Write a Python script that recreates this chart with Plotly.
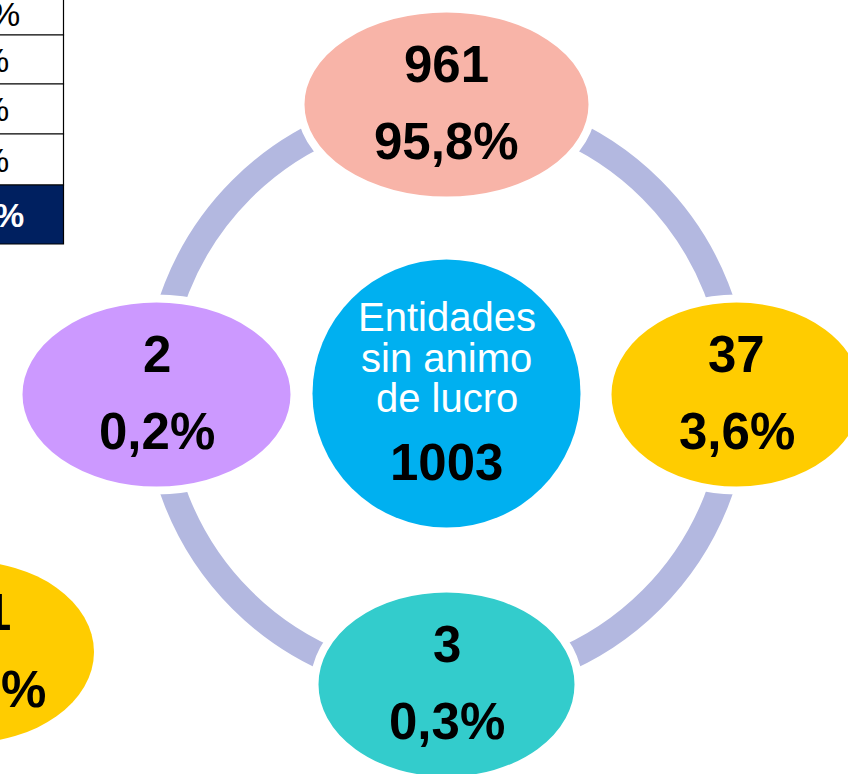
import plotly.graph_objects as go
import math

# ---- data ----
node_counts = ["961", "37", "3", "2"]
node_pcts = ["95,8%", "3,6%", "0,3%", "0,2%"]
center_label = ["Entidades", "sin animo", "de lucro"]
center_total = "1003"
table_pcts = ["%", "%", "%", "%", "%"]
partial_count = "1"
partial_pct = "%"

# ---- styles / layout ----
W, H = 848, 774
CX, CY, R = 446.5, 394.5, 290
node_angles = [90, 0, -90, 180]
node_rx = [146, 129, 132, 138]
node_ry = [96, 96, 96, 96]
node_colors = ["#F8B4A8", "#FFCC00", "#33CCCC", "#CC99FF"]
ring_color = "#B3B8E0"
center_color = "#00B0F0"
FONT = "Liberation Sans, Arial, sans-serif"

fig = go.Figure()
fig.add_trace(go.Scatter(x=[0, W], y=[0, H], mode="markers",
                         marker=dict(opacity=0), hoverinfo="skip", showlegend=False))

shapes = []
annos = []

# ring
shapes.append(dict(type="circle", xref="x", yref="y",
                   x0=CX - R, x1=CX + R, y0=CY - R, y1=CY + R,
                   line=dict(color=ring_color, width=26), fillcolor="rgba(0,0,0,0)", layer="below"))

# center circle
CR = 134
shapes.append(dict(type="circle", xref="x", yref="y",
                   x0=CX - CR, x1=CX + CR, y0=CY - CR - 1, y1=CY + CR - 1,
                   line=dict(color="white", width=0), fillcolor=center_color))
for i, t in enumerate(center_label):
    annos.append(dict(x=CX, y=317 + i * 40.5, text=t, showarrow=False,
                      font=dict(family=FONT, size=40, color="white"),
                      xanchor="center", yanchor="middle"))
annos.append(dict(x=CX, y=462, text="<b>" + center_total + "</b>", showarrow=False,
                  font=dict(family=FONT, size=51, color="black"),
                  xanchor="center", yanchor="middle"))

# nodes
for i, a in enumerate(node_angles):
    nx = CX + R * math.cos(math.radians(a))
    ny = CY - R * math.sin(math.radians(a))
    shapes.append(dict(type="circle", xref="x", yref="y",
                       x0=nx - node_rx[i], x1=nx + node_rx[i],
                       y0=ny - node_ry[i], y1=ny + node_ry[i],
                       line=dict(color="white", width=8), fillcolor=node_colors[i]))
    annos.append(dict(x=nx, y=ny - 40, text="<b>" + node_counts[i] + "</b>", showarrow=False,
                      font=dict(family=FONT, size=51, color="black"),
                      xanchor="center", yanchor="middle"))
    annos.append(dict(x=nx, y=ny + 37, text="<b>" + node_pcts[i] + "</b>", showarrow=False,
                      font=dict(family=FONT, size=51, color="black"),
                      xanchor="center", yanchor="middle"))

# partial node bottom-left
shapes.append(dict(type="circle", xref="x", yref="y",
                   x0=-34 - 128, x1=-34 + 128, y0=652 - 91, y1=652 + 91,
                   line=dict(color="white", width=0), fillcolor="#FFCC00"))
annos.append(dict(x=13, y=612, text="<b>" + partial_count + "</b>", showarrow=False,
                  font=dict(family=FONT, size=51, color="black"),
                  xanchor="right", yanchor="middle"))
annos.append(dict(x=48, y=689, text="<b>" + partial_pct + "</b>", showarrow=False,
                  font=dict(family=FONT, size=51, color="black"),
                  xanchor="right", yanchor="middle"))

# partial table top-left
row_edges = [-20, 35, 84, 134, 185, 244]
text_right = [22, 11, 11, 11, 26]
for i in range(5):
    last = i == 4
    shapes.append(dict(type="rect", xref="x", yref="y",
                       x0=-200, x1=63.5, y0=row_edges[i], y1=row_edges[i + 1],
                       line=dict(color="black", width=1.2),
                       fillcolor="#002060" if last else "white"))
    yc = (row_edges[i] + row_edges[i + 1]) / 2 if i > 0 else 14
    annos.append(dict(x=text_right[i], y=yc, text=("<b>%s</b>" % table_pcts[i]) if last else table_pcts[i],
                      showarrow=False,
                      font=dict(family=FONT, size=34, color="white" if last else "black"),
                      xanchor="right", yanchor="middle"))

fig.update_layout(
    width=W, height=H, margin=dict(l=0, r=0, t=0, b=0),
    paper_bgcolor="white", plot_bgcolor="white",
    xaxis=dict(range=[0, W], visible=False, fixedrange=True),
    yaxis=dict(range=[H, 0], visible=False, fixedrange=True),
    shapes=shapes, annotations=annos, showlegend=False,
)
fig.write_html("out.html", config={"displayModeBar": False},
               post_script="document.body.style.margin='0px';document.body.style.overflow='hidden';")
